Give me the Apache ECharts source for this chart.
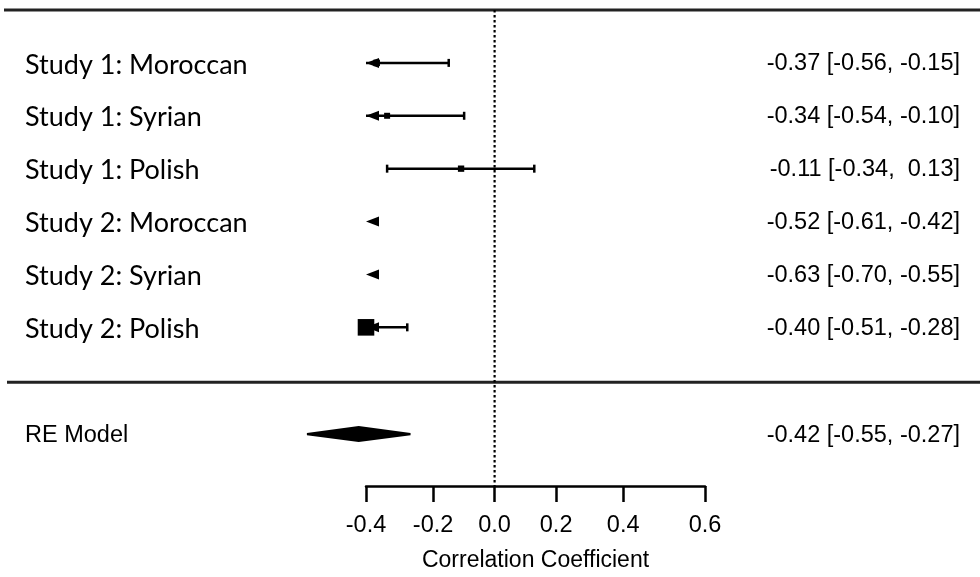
<!DOCTYPE html>
<html><head><meta charset="utf-8">
<script src="https://cdn.jsdelivr.net/npm/echarts@6/dist/echarts.min.js"></script>
<style>html,body{margin:0;padding:0;background:#fff}#c{width:980px;height:577px}</style>
</head><body><div id="c"></div>
<script>
// ---- data (correlations) ----
const studyLabels = ['Study 1: Moroccan', 'Study 1: Syrian', 'Study 1: Polish', 'Study 2: Moroccan', 'Study 2: Syrian', 'Study 2: Polish'];
const estimates = [-0.37, -0.34, -0.11, -0.52, -0.63, -0.40];
const ciLower  = [-0.56, -0.54, -0.34, -0.61, -0.70, -0.51];
const ciUpper  = [-0.15, -0.10, 0.13, -0.42, -0.55, -0.28];
const weights  = [11.5, 11.0, 11.3, 21.5, 22.0, 20.7];
const summaryLabel = 'RE Model';
const summaryEstimate = -0.42;
const summaryLower = -0.55;
const summaryUpper = -0.27;
const tickLabels = [-0.4, -0.2, 0.0, 0.2, 0.4, 0.6];
const axisTitle = 'Correlation Coefficient';

// ---- helpers ----
const z = r => Math.atanh(r);
const fmt = v => { const s = v.toFixed(2); return s.length < 5 ? ' '.repeat(5 - s.length) + s : s; };
const ciString = (e, l, u) => fmt(e).trim() + ' [' + fmt(l) + ', ' + fmt(u) + ']';
const zMin = z(tickLabels[0]);
const zMax = z(tickLabels[tickLabels.length - 1]);
const nStudies = studyLabels.length;
const wMin = Math.min(...weights), wMax = Math.max(...weights);

const INK = '#000';
const LEFT_FONT = '27px Lato';
const RIGHT_FONT = '23.5px "Liberation Sans", Arial';

const studyData = studyLabels.map((lab, i) => [nStudies - i, z(estimates[i]), z(ciLower[i]), z(ciUpper[i]), weights[i], i]);

function renderStudy(params, api) {
  const row = api.value(0), est = api.value(1), lo = api.value(2), hi = api.value(3), w = api.value(4), i = api.value(5);
  const y = api.coord([0, row])[1];
  const X = v => api.coord([v, row])[0];
  const children = [];
  let loC = Math.max(lo, zMin), hiC = Math.min(hi, zMax);
  if (hiC < loC) hiC = loC;
  children.push({ type: 'line', shape: { x1: X(loC), y1: y, x2: X(hiC), y2: y }, style: { stroke: INK, lineWidth: 2.5 } });
  const tickH = 4;
  if (lo >= zMin && lo <= zMax) children.push({ type: 'line', shape: { x1: X(lo), y1: y - tickH, x2: X(lo), y2: y + tickH }, style: { stroke: INK, lineWidth: 2.5 } });
  if (hi >= zMin && hi <= zMax) children.push({ type: 'line', shape: { x1: X(hi), y1: y - tickH, x2: X(hi), y2: y + tickH }, style: { stroke: INK, lineWidth: 2.5 } });
  if (lo < zMin) { const xa = X(zMin); children.push({ type: 'polygon', shape: { points: [[xa, y], [xa + 13, y - 5], [xa + 13, y + 5]] }, style: { fill: INK } }); }
  if (hi > zMax) { const xa = X(zMax); children.push({ type: 'polygon', shape: { points: [[xa, y], [xa - 13, y - 5], [xa - 13, y + 5]] }, style: { fill: INK } }); }
  if (est >= zMin - 1e-9 && est <= zMax + 1e-9) {
    const s = 6 + (w - wMin) / (wMax - wMin) * 12;
    children.push({ type: 'rect', shape: { x: X(est) - s / 2, y: y - s / 2, width: s, height: s }, style: { fill: INK } });
  }
  children.push({ type: 'text', style: { text: studyLabels[i], x: 25, y: y + 2, font: LEFT_FONT, fill: INK, align: 'left', verticalAlign: 'middle' } });
  children.push({ type: 'text', style: { text: ciString(estimates[i], ciLower[i], ciUpper[i]), x: api.getWidth() - 20, y: y + 1, font: RIGHT_FONT, fill: INK, align: 'right', verticalAlign: 'middle' } });
  return { type: 'group', children };
}

function renderSummary(params, api) {
  const row = api.value(0);
  const y = api.coord([0, row])[1] + 1;
  const xl = api.coord([api.value(2), row])[0], xe = api.coord([api.value(1), row])[0], xu = api.coord([api.value(3), row])[0];
  return { type: 'group', children: [
    { type: 'polygon', shape: { points: [[xl, y - 1.2], [xe, y - 8], [xu, y - 1.2], [xu, y + 1.2], [xe, y + 8], [xl, y + 1.2]] }, style: { fill: INK } },
    { type: 'text', style: { text: summaryLabel, x: 25, y: y + 1, font: RIGHT_FONT, fill: INK, align: 'left', verticalAlign: 'middle' } },
    { type: 'text', style: { text: ciString(summaryEstimate, summaryLower, summaryUpper), x: api.getWidth() - 20, y: y + 1, font: RIGHT_FONT, fill: INK, align: 'right', verticalAlign: 'middle' } }
  ] };
}

function renderFrame(params, api) {
  const W = api.getWidth();
  const yTop = api.coord([0, nStudies + 1])[1];
  const ySep = api.coord([0, 0])[1] + 2;
  const yAx = api.coord([0, -2])[1];
  const x0 = api.coord([0, 0])[0];
  return { type: 'group', children: [
    { type: 'line', shape: { x1: 4, y1: yTop, x2: W, y2: yTop }, style: { stroke: '#222', lineWidth: 3 } },
    { type: 'line', shape: { x1: 7, y1: ySep, x2: W, y2: ySep }, style: { stroke: '#222', lineWidth: 3 } },
    { type: 'line', shape: { x1: x0, y1: yTop, x2: x0, y2: yAx }, style: { stroke: INK, lineWidth: 2.2, lineDash: [2.5, 2.5] } }
  ] };
}

const chart = echarts.init(document.getElementById('c'), null, { renderer: 'canvas' });
chart.setOption({
  animation: false,
  backgroundColor: '#fff',
  grid: { left: 366, right: 275, top: 10, bottom: 91 },
  xAxis: {
    type: 'value', min: zMin, max: zMax, position: 'bottom',
    axisLine: { show: true, onZero: false, lineStyle: { color: INK, width: 2.5 } },
    axisTick: { show: true, customValues: tickLabels.map(z), length: 16, lineStyle: { color: INK, width: 2.5 } },
    axisLabel: { customValues: tickLabels.map(z), formatter: v => Math.tanh(v).toFixed(1), margin: 28, fontSize: 23.5, fontFamily: '"Liberation Sans", Arial', color: INK },
    splitLine: { show: false },
    name: axisTitle, nameLocation: 'middle', nameGap: 63,
    nameTextStyle: { fontSize: 23, fontFamily: '"Liberation Sans", Arial', color: INK }
  },
  yAxis: { type: 'value', min: -2, max: nStudies + 1, show: false },
  series: [
    { type: 'custom', clip: false, renderItem: renderFrame, data: [[0, 0]], silent: true },
    { type: 'custom', clip: false, renderItem: renderStudy, data: studyData, silent: true },
    { type: 'custom', clip: false, renderItem: renderSummary, data: [[-1, z(summaryEstimate), z(summaryLower), z(summaryUpper)]], silent: true }
  ]
});
</script></body></html>
